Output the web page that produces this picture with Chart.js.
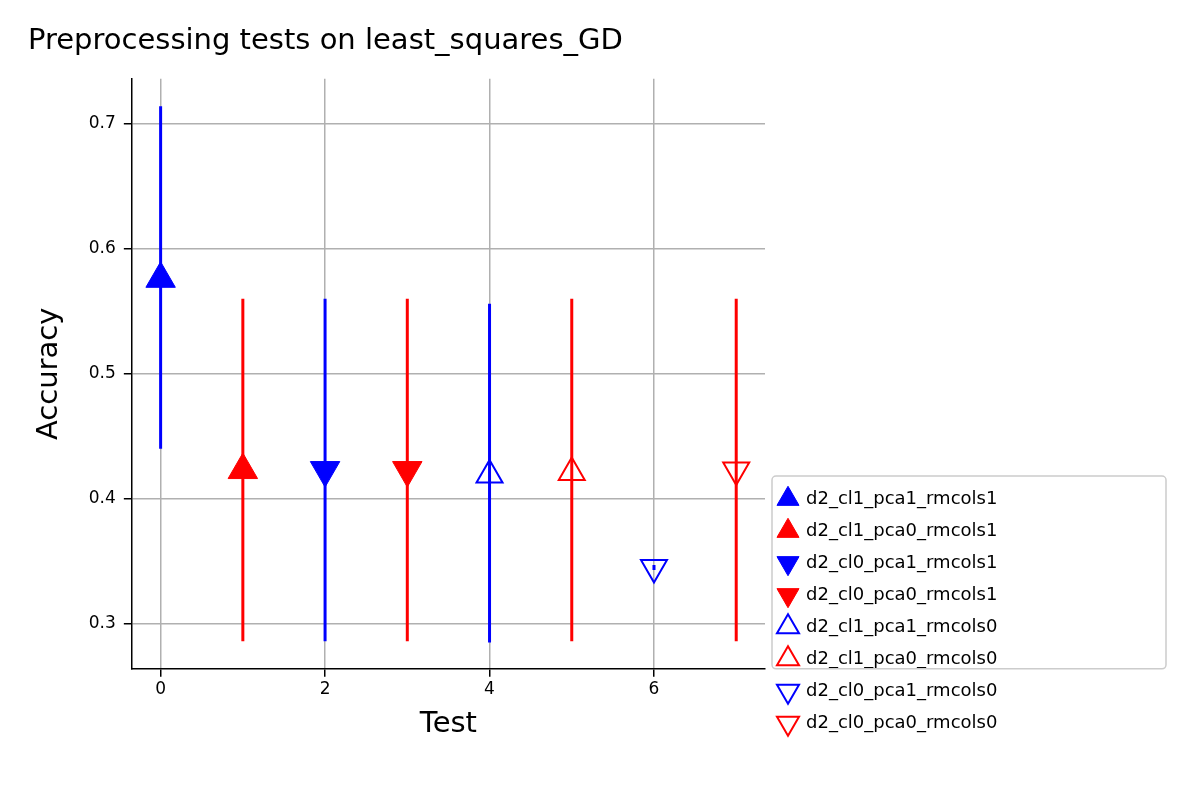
<!DOCTYPE html>
<html><head><meta charset="utf-8">
<script src="https://cdn.jsdelivr.net/npm/chart.js@4"></script>
<style>body{margin:0;background:#fff}#wrap{width:1200px;height:800px}</style>
</head><body><div id="wrap"><canvas id="c"></canvas></div>
<script>
const labels = ["d2_cl1_pca1_rmcols1","d2_cl1_pca0_rmcols1","d2_cl0_pca1_rmcols1","d2_cl0_pca0_rmcols1",
  "d2_cl1_pca1_rmcols0","d2_cl1_pca0_rmcols0","d2_cl0_pca1_rmcols0","d2_cl0_pca0_rmcols0"];
const tests = [0,1,2,3,4,5,6,7];
const accuracy = [0.576,0.423,0.423,0.423,0.419,0.421,0.345,0.423];
const errLow  = [0.440,0.286,0.286,0.286,0.285,0.286,0.343,0.286];
const errHigh = [0.714,0.560,0.560,0.560,0.556,0.560,0.347,0.560];
const colors = ["#0000ff","#ff0000","#0000ff","#ff0000","#0000ff","#ff0000","#0000ff","#ff0000"];
const filled = [true,true,true,true,false,false,false,false];
const flipped = [false,false,true,true,false,false,true,true];

const datasets = [];
tests.forEach((t,i)=>{
  datasets.push({
    label: labels[i],
    data: [{x:t,y:accuracy[i]}],
    showLine:false,
    pointStyle:"triangle",
    rotation: flipped[i]?180:0,
    pointRadius: filled[i]?17:15,
    borderColor: colors[i],
    backgroundColor: filled[i]?colors[i]:"rgba(0,0,0,0)",
    borderWidth: filled[i]?1:2,
    order:0
  });
});
tests.forEach((t,i)=>{
  datasets.push({
    label:"err"+i,
    data:[{x:t,y:errLow[i]},{x:t,y:errHigh[i]}],
    showLine:true,
    pointRadius:0,
    borderColor:colors[i],
    borderWidth:3,
    order:1
  });
});

const legendBox = {
  id:"legendBox",
  afterInit(chart){
    const l = chart.legend;
    const orig = l.fit.bind(l);
    l.fit = function(){ orig(); this.width = 407; };
  },
  afterDraw(chart){
    const l = chart.legend, ctx = chart.ctx, hb = l.legendHitBoxes;
    if(!hb || !hb.length) return;
    const top = Math.min(...hb.map(h=>h.top)) - 14;
    const bottom = chart.chartArea.bottom;
    ctx.save();
    ctx.strokeStyle="#cccccc"; ctx.lineWidth=1.5;
    ctx.beginPath();
    ctx.roundRect(772, top, 394, bottom-top, 4);
    ctx.stroke();
    ctx.restore();
  }
};

new Chart(document.getElementById("c"), {
  type:"scatter",
  data:{datasets},
  plugins:[legendBox],
  options:{
    responsive:true, maintainAspectRatio:false, animation:false,
    layout:{padding:{left:28,right:28,top:10,bottom:54}},
    font:{family:"DejaVu Sans"},
    plugins:{
      title:{display:true,text:"Preprocessing tests on least_squares_GD",align:"start",
        color:"#000",font:{family:"DejaVu Sans",size:29,weight:"normal"},padding:{top:14,bottom:20}},
      legend:{position:"right",align:"end",
        labels:{filter:it=>!it.text.startsWith("err"),usePointStyle:true,color:"#000",
          font:{family:"DejaVu Sans",size:18},padding:14,boxWidth:40}},
      tooltip:{enabled:false}
    },
    scales:{
      x:{type:"linear",min:-0.35,max:7.35,
        afterBuildTicks:a=>{a.ticks=[0,2,4,6].map(v=>({value:v}));},
        grid:{color:"#b0b0b0",lineWidth:1.5,tickColor:"#000",tickLength:8},
        border:{color:"#000",width:1.5},
        ticks:{color:"#000",font:{family:"DejaVu Sans",size:17}},
        title:{display:true,text:"Test",color:"#000",font:{family:"DejaVu Sans",size:29}}},
      y:{min:0.264,max:0.736,
        afterBuildTicks:a=>{a.ticks=[0.3,0.4,0.5,0.6,0.7].map(v=>({value:v}));},
        grid:{color:"#b0b0b0",lineWidth:1.5,tickColor:"#000",tickLength:8},
        border:{color:"#000",width:1.5},
        ticks:{color:"#000",font:{family:"DejaVu Sans",size:17},padding:8,callback:v=>v.toFixed(1)},
        title:{display:true,text:"Accuracy",color:"#000",font:{family:"DejaVu Sans",size:29},padding:{top:4,bottom:14}}}
    }
  }
});
</script></body></html>
